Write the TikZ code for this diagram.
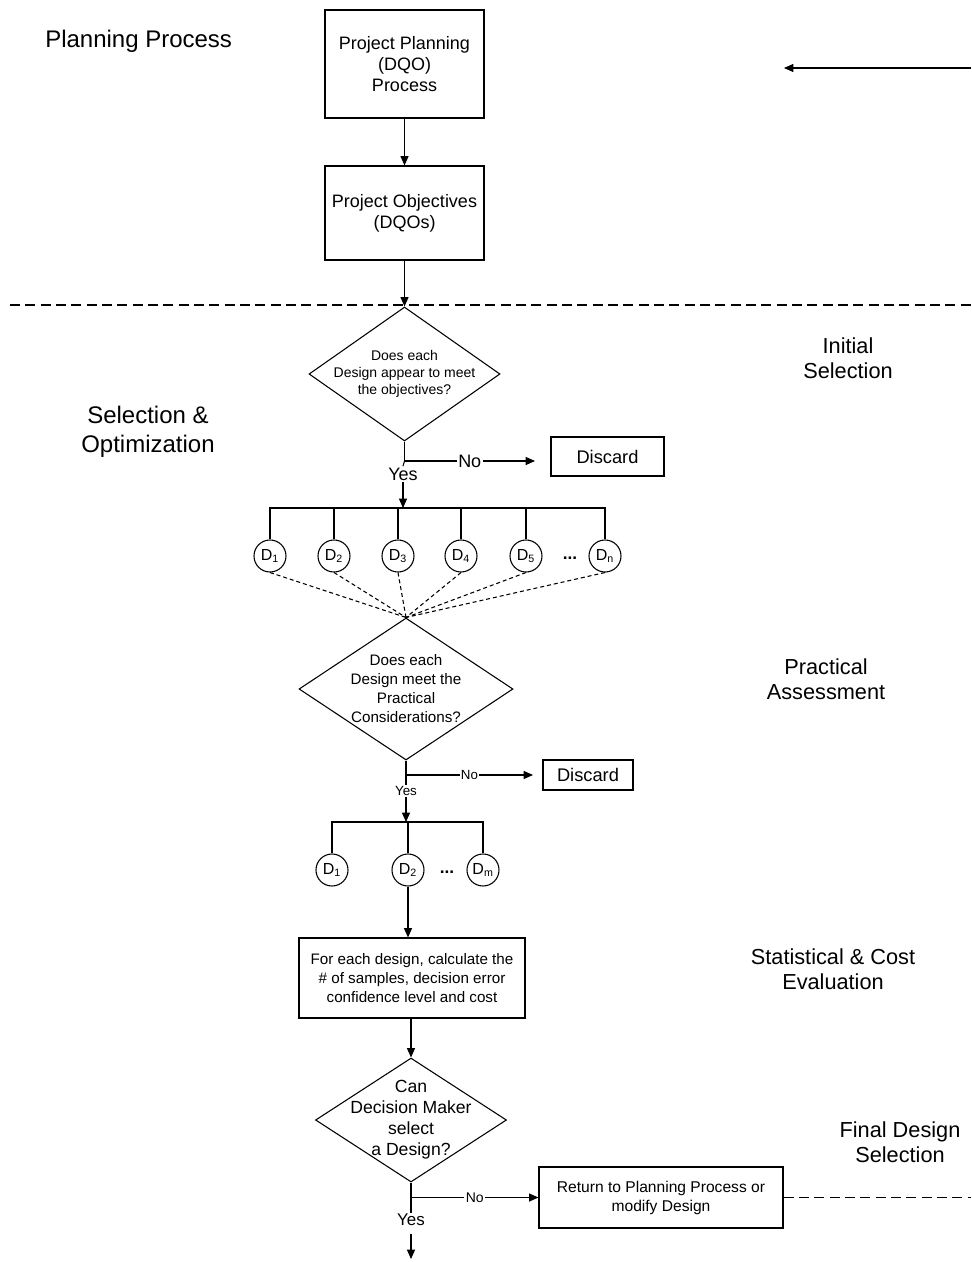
\documentclass[tikz,border=0pt]{standalone}
\usepackage{fontspec}
\setmainfont{Liberation Sans}
\usetikzlibrary{arrows.meta,shapes.geometric}
\newcommand{\fs}[2]{\fontsize{#1}{#2}\selectfont}
\tikzset{
  ln/.style={line width=0.8pt},
  arr/.style={ln,-{Triangle[length=7pt,width=6pt]}},
  boxx/.style={draw,ln,align=center,inner sep=0pt},
  dia/.style={draw,ln,diamond,inner sep=0pt},
  circ/.style={draw,ln,circle,inner sep=0pt,minimum size=24pt},
  lbl/.style={align=center,inner sep=1pt},
  lab/.style={fill=white,inner sep=1pt},
  bigdash/.style={line width=1pt,dash pattern=on 7.5pt off 4pt},
  smalldash/.style={ln,dash pattern=on 3pt off 2.2pt},
}
\begin{document}
\begin{tikzpicture}[x=0.75pt,y=-0.75pt]
\useasboundingbox (0,0) rectangle (971,1262);
% side labels
\node[anchor=west,inner sep=0pt,font=\fs{18}{22}] (pp) at (45,41) {Planning Process};
\node[lbl,font=\fs{18}{21.75}] (selopt) at (148,432) {Selection \&\\Optimization};
\node[lbl,font=\fs{16.3}{18.75}] (inisel) at (848,358) {Initial\\Selection};
\node[lbl,font=\fs{16.3}{18.75}] (pracass) at (826,679) {Practical\\Assessment};
\node[lbl,font=\fs{16.3}{18.75}] (statcost) at (833,969) {Statistical \& Cost\\Evaluation};
\node[lbl,font=\fs{16.3}{18.75}] (finsel) at (900,1142) {Final Design\\Selection};

% top boxes
\node[boxx,minimum width=119.25pt,minimum height=81pt,font=\fs{13.5}{15.75}] (b1) at (404.5,64) {Project Planning\\(DQO)\\Process};
\node[boxx,minimum width=119.25pt,minimum height=70.5pt,font=\fs{13.5}{15.75}] (b2) at (404.5,213) {Project Objectives\\(DQOs)};
\draw[arr] (b1.south) -- (b2.south |- b2.north);
\coordinate (rs) at (971,68);
\coordinate (re) at (784,68);
\draw[arr] (rs) -- (re);

% dashed separator
\coordinate (dl) at (10,305);
\coordinate (dr) at (971,305);
\draw[bigdash] (dl) -- (dr);

% diamond 1
\node[dia,minimum width=143.25pt,minimum height=100.5pt] (d1) at (404.5,374) {};
\node[lbl,font=\fs{10.5}{12.75}] (d1t) at (d1.center) {Does each\\Design appear to meet\\the objectives?};
\draw[arr] (b2.south) -- (d1.north);
\coordinate (br1) at (404.5,461);
\coordinate (ne1) at (535,461);
\draw[ln] (d1.south) -- (br1);
\draw[arr] (br1) -- node[lab,pos=0.5,font=\fs{13.5}{15}] (no1) {No} (ne1);
\node[boxx,minimum width=84.75pt,minimum height=29.25pt,font=\fs{13.7}{15}] (dis1) at (607.5,456.5) {Discard};
\node[inner sep=1pt,font=\fs{13.5}{15}] (yes1) at (403,474) {Yes};
\coordinate (bus1) at (403,508);
\draw[ln] (br1) -- (yes1.north);
\draw[arr] (yes1.south) -- (bus1);

% design circles
\foreach \n/\x/\s in {c1/270/1,c2/334/2,c3/398/3,c4/461/4,c5/526/5,cn/605/n}{
  \node[circ,font=\fs{12}{14}] (\n) at (\x,556) {D\textsubscript{\s}};
}
\node[inner sep=0pt,font=\fs{13}{14}\bfseries] (dots1) at (570,558) {...};
\draw[ln] (c1.north) -- (c1.north |- bus1) -- (cn.north |- bus1) -- (cn.north);
\foreach \n in {c2,c3,c4,c5}{\draw[ln] (\n.north) -- (\n.north |- bus1);}

% diamond 2
\node[dia,minimum width=160.5pt,minimum height=106.5pt] (d2) at (406,689) {};
\node[lbl,font=\fs{11.4}{14.25}] (d2t) at (d2.center) {Does each\\Design meet the\\Practical\\Considerations?};
\foreach \n in {c1,c2,c3,c4,c5,cn}{\draw[smalldash] (\n.south) -- (d2.north);}
\coordinate (br2) at (406,775);
\coordinate (ne2) at (533,775);
\draw[ln] (d2.south) -- (br2);
\draw[arr] (br2) -- node[lab,pos=0.5,font=\fs{10}{12}] (no2) {No} (ne2);
\node[boxx,minimum width=67.5pt,minimum height=22.5pt,font=\fs{13.7}{15}] (dis2) at (588,775) {Discard};
\node[inner sep=1pt,font=\fs{10}{12}] (yes2) at (406,791) {Yes};
\coordinate (bus2) at (406,822);
\draw[ln] (br2) -- (yes2.north);
\draw[arr] (yes2.south) -- (bus2);

\foreach \n/\x/\s in {e1/332/1,e2/408/2,em/483/m}{
  \node[circ,font=\fs{12}{14}] (\n) at (\x,870) {D\textsubscript{\s}};
}
\node[inner sep=0pt,font=\fs{13}{14}\bfseries] (dots2) at (447,872) {...};
\draw[ln] (e1.north) -- (e1.north |- bus2) -- (em.north |- bus2) -- (em.north);
\draw[ln] (e2.north) -- (e2.north |- bus2);

% box 3
\node[boxx,minimum width=169.5pt,minimum height=60pt,font=\fs{11.4}{14.25}] (b3) at (412,978) {For each design, calculate the\\\# of samples, decision error\\confidence level and cost};
\draw[arr] (e2.south) -- (e2.south |- b3.north);

% diamond 3
\node[dia,minimum width=143.25pt,minimum height=93pt] (d3) at (411,1120) {};
\node[lbl,font=\fs{13.2}{15.75}] (d3t) at (d3.center) {Can\\Decision Maker\\select\\a Design?};
\draw[arr] (d3.north |- b3.south) -- (d3.north);
\node[boxx,minimum width=183pt,minimum height=45.75pt,font=\fs{11.7}{14.25}] (b4) at (661,1197.5) {Return to Planning Process or\\modify Design};
\coordinate (br3) at (411,1197.5);
\draw[ln] (d3.south) -- (br3);
\draw[arr] (br3) -- node[lab,pos=0.5,font=\fs{10.5}{12}] (no3) {No} (b4.west);
\coordinate (dr3) at (971,1197.5);
\draw[bigdash] (b4.east) -- (dr3);
\node[inner sep=1pt,font=\fs{12.7}{14}] (yes3) at (411,1220) {Yes};
\coordinate (end3) at (411,1259);
\draw[ln] (br3) -- (yes3.north);
\draw[arr] (yes3.south) ++(0,6) -- (end3);
\end{tikzpicture}
\end{document}
